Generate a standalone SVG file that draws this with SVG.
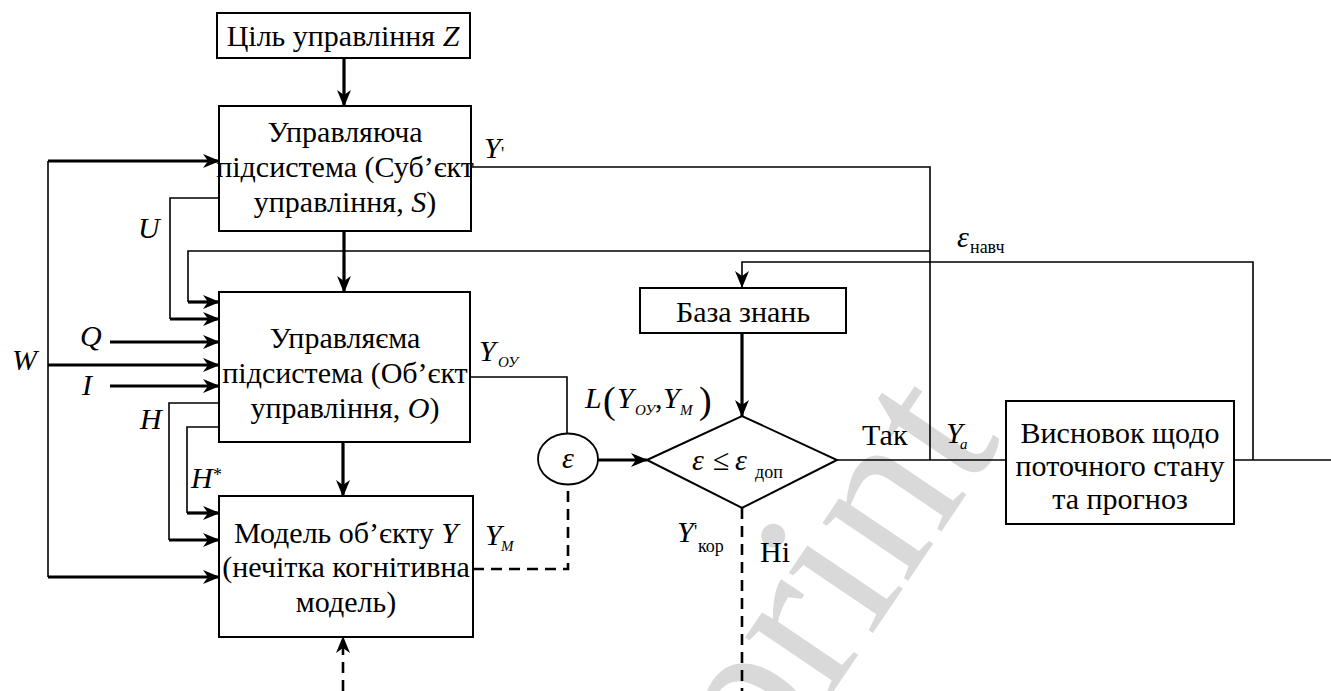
<svg xmlns="http://www.w3.org/2000/svg" width="1331" height="691" viewBox="0 0 1331 691" font-family="Liberation Serif, Times New Roman, serif">
<defs>
<marker id="ah" markerUnits="userSpaceOnUse" markerWidth="17" markerHeight="14" viewBox="0 0 17 14" refX="16" refY="7" orient="auto">
<path d="M0,0 L17,7 L0,14 L5,7 z" fill="#000"/>
</marker>
<style>
.box{fill:#fff;stroke:#000;stroke-width:2}
.t{font-size:30px;fill:#000}
.i{font-style:italic}
.s{font-size:18px}
.ss{font-size:15px}
.p{font-size:38px}
.thin{fill:none;stroke:#000;stroke-width:1.6}
.thick{fill:none;stroke:#000;stroke-width:3.2}
.dash{fill:none;stroke:#000;stroke-width:2.6;stroke-dasharray:11 7}
.arr{marker-end:url(#ah)}
</style>
</defs>
<rect width="1331" height="691" fill="#fff"/>
<text transform="translate(1003,440) rotate(-56)" text-anchor="end" font-family="Liberation Serif, serif" font-size="225" fill="#d9d9d9">preprint</text>

<g id="connectors">
<line class="thick arr" x1="344" y1="58" x2="344" y2="106"/>
<line class="thick arr" x1="344" y1="231" x2="344" y2="292"/>
<line class="thick arr" x1="343" y1="442" x2="343" y2="496"/>
<line class="thin" x1="48" y1="161" x2="48" y2="577"/>
<line class="thick arr" x1="48" y1="161" x2="219" y2="161"/>
<line class="thick arr" x1="48" y1="365" x2="219" y2="365"/>
<line class="thick arr" x1="48" y1="577" x2="219" y2="577"/>
<path class="thin" d="M219,198 H170 V319"/>
<line class="thick arr" x1="170" y1="319" x2="219" y2="319"/>
<path class="thin" d="M930,251 H188 V302"/>
<line class="thick arr" x1="188" y1="302" x2="219" y2="302"/>
<line class="thick arr" x1="110" y1="342" x2="219" y2="342"/>
<line class="thick arr" x1="110" y1="386" x2="219" y2="386"/>
<path class="thin" d="M219,403 H169 V540"/>
<line class="thick arr" x1="169" y1="540" x2="219" y2="540"/>
<path class="thin" d="M219,427 H187 V513"/>
<line class="thick arr" x1="187" y1="513" x2="219" y2="513"/>
<path class="thin" d="M471,167 H930 V460"/>
<path class="thin" d="M470,377 H567 V433"/>
<path class="dash" d="M473,569 H568 V484"/>
<line class="thick arr" x1="598" y1="460" x2="647" y2="460"/>
<line class="thick arr" x1="742" y1="333" x2="742" y2="416"/>
<line class="thin" x1="837" y1="460" x2="1006" y2="460"/>
<line class="thin" x1="1210" y1="460" x2="1331" y2="460"/>
<path class="thin arr" d="M1253,460 V262 H742 V287"/>
<line class="dash" x1="742" y1="508" x2="742" y2="691"/>
<line class="dash arr" x1="343" y1="691" x2="343" y2="637"/>
</g>

<g id="goal">
<rect class="box" x="217" y="13" width="253" height="45"/>
<text class="t" x="343" y="46" text-anchor="middle">Ціль управління <tspan class="i">Z</tspan></text>
</g>

<g id="subject">
<rect class="box" x="219" y="106" width="252" height="125"/>
<text class="t" x="345" y="142" text-anchor="middle">Управляюча</text>
<text class="t" x="345" y="177" text-anchor="middle">підсистема (Суб’єкт</text>
<text class="t" x="345" y="212" text-anchor="middle">управління, <tspan class="i">S</tspan>)</text>
</g>

<g id="object">
<rect class="box" x="219" y="292" width="251" height="150"/>
<text class="t" x="345" y="348" text-anchor="middle">Управляєма</text>
<text class="t" x="345" y="383" text-anchor="middle">підсистема (Об’єкт</text>
<text class="t" x="345" y="418" text-anchor="middle">управління, <tspan class="i">O</tspan>)</text>
</g>

<g id="model">
<rect class="box" x="219" y="496" width="254" height="141"/>
<text class="t" x="346" y="543" text-anchor="middle">Модель об’єкту <tspan class="i">Y</tspan></text>
<text class="t" x="346" y="577" text-anchor="middle">(нечітка когнітивна</text>
<text class="t" x="346" y="612" text-anchor="middle">модель)</text>
</g>

<g id="comparator">
<ellipse cx="568" cy="459" rx="30" ry="25.5" fill="#fff" stroke="#000" stroke-width="1.8"/>
<text class="t i" x="568" y="468" text-anchor="middle">ε</text>
</g>

<g id="knowledge">
<rect class="box" x="640" y="288" width="206" height="45"/>
<text class="t" x="743" y="322" text-anchor="middle">База знань</text>
</g>

<g id="decision">
<polygon points="647,460 742,416 837,460 742,508" fill="#fff" stroke="#000" stroke-width="2"/>
<text class="t i" x="692" y="470">ε</text>
<text class="t" x="713" y="470" font-size="27">≤</text>
<text class="t i" x="735" y="470">ε</text>
<text class="t s" x="755" y="478">доп</text>
</g>

<g id="conclusion">
<rect class="box" x="1006" y="401" width="228" height="123"/>
<text class="t" x="1120" y="443" text-anchor="middle">Висновок щодо</text>
<text class="t" x="1120" y="476" text-anchor="middle">поточного стану</text>
<text class="t" x="1120" y="509" text-anchor="middle">та прогноз</text>
</g>

<g id="labels">
<text class="t i" x="484" y="158">Y</text>
<text class="t s" x="501" y="160">'</text>
<text class="t i" x="138" y="238">U</text>
<text class="t i" x="80" y="346">Q</text>
<text class="t i" x="12" y="370">W</text>
<text class="t i" x="82" y="395">I</text>
<text class="t i" x="140" y="429">H</text>
<text class="t i" x="191" y="488">H</text>
<text class="t s" x="213" y="481">*</text>
<text class="t i" x="479" y="361">Y</text>
<text class="t i ss" x="498" y="367">ОУ</text>
<text class="t i" x="485" y="545">Y</text>
<text class="t i ss" x="501" y="551">M</text>
<text class="t i" x="585" y="408">L</text>
<text class="t p" x="603" y="413">(</text>
<text class="t i" x="617" y="408">Y</text>
<text class="t i ss" x="635" y="415">ОУ</text>
<text class="t" x="655" y="408">,</text>
<text class="t i" x="663" y="408">Y</text>
<text class="t i ss" x="680" y="415">M</text>
<text class="t p" x="699" y="413">)</text>
<text class="t i" x="957" y="247">ε</text>
<text class="t s" x="970" y="253">навч</text>
<text class="t" x="862" y="445">Так</text>
<text class="t i" x="946" y="443">Y</text>
<text class="t i ss" x="960" y="449">a</text>
<text class="t i" x="677" y="542">Y</text>
<text class="t s" x="694" y="538">'</text>
<text class="t s" x="698" y="552">кор</text>
<text class="t" x="760" y="562">Ні</text>
</g>
</svg>
